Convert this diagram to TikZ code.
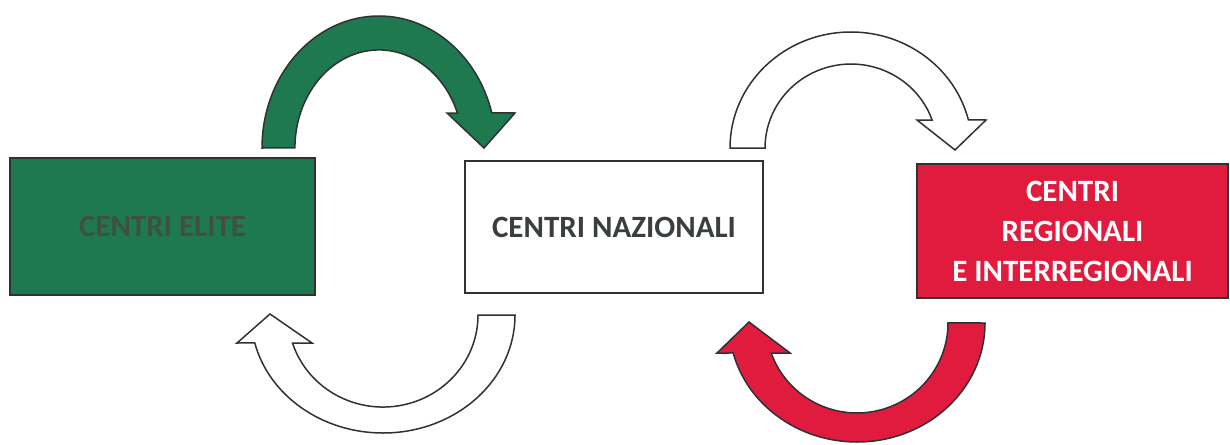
\documentclass[tikz,border=0pt]{standalone}
\usepackage{fontspec}
\setmainfont{Carlito}
\definecolor{eliteGreen}{RGB}{30,121,80}
\definecolor{regRed}{RGB}{225,27,62}
\definecolor{lineGray}{RGB}{48,50,50}
\definecolor{textGray}{RGB}{58,62,62}
\definecolor{eliteText}{RGB}{62,80,68}

\begin{document}
\begin{tikzpicture}[x=1pt,y=1pt,
box/.style={draw=lineGray,line width=1.6pt,inner sep=0pt,align=center,
  font=\bfseries\fontsize{31}{40}\selectfont},
band/.style={draw=lineGray,line width=1.5pt,line join=miter}]
\useasboundingbox (0,0) rectangle (1230,-444);

% The three centres
\node[box,fill=eliteGreen,text=eliteText,minimum width=305,minimum height=137] (elite) at (162.5,-226.5) {CENTRI ELITE};
\node[box,fill=white,text=textGray,minimum width=298,minimum height=132] (naz) at (614,-227) {CENTRI NAZIONALI};
\node[box,fill=regRed,text=white,minimum width=311,minimum height=134] (reg) at (1072.5,-231) {CENTRI\\REGIONALI\\E INTERREGIONALI};

% Upper arrows
\draw[band,fill=eliteGreen] (262,-148) arc[start angle=180,end angle=15.4,x radius=117pt,y radius=132pt]
  -- (515,-113) -- (484,-148) -- (447,-113) -- (457.4,-113)
  arc[start angle=20.9,end angle=180,x radius=84pt,y radius=98pt] -- cycle;
\draw[band,fill=white] (730,-148) arc[start angle=180,end angle=14,x radius=121pt,y radius=116pt]
  -- (986,-120) -- (955,-150) -- (917,-120) -- (932.1,-120)
  arc[start angle=19.5,end angle=180,x radius=86pt,y radius=84pt] -- cycle;

% Lower arrows
\draw[band,fill=white] (515,-315) arc[start angle=0,end angle=-166.3,x radius=132pt,y radius=118pt]
  -- (237,-343) -- (270,-314) -- (312,-343) -- (292.5,-343)
  arc[start angle=-162.3,end angle=0,x radius=95pt,y radius=92pt] -- cycle;
\draw[band,fill=regRed] (985,-323) arc[start angle=0,end angle=-165.4,x radius=128pt,y radius=119pt]
  -- (717,-353) -- (749,-322) -- (790,-353) -- (771.2,-353)
  arc[start angle=-160.5,end angle=0,x radius=91pt,y radius=90pt] -- cycle;

\end{tikzpicture}
\end{document}
